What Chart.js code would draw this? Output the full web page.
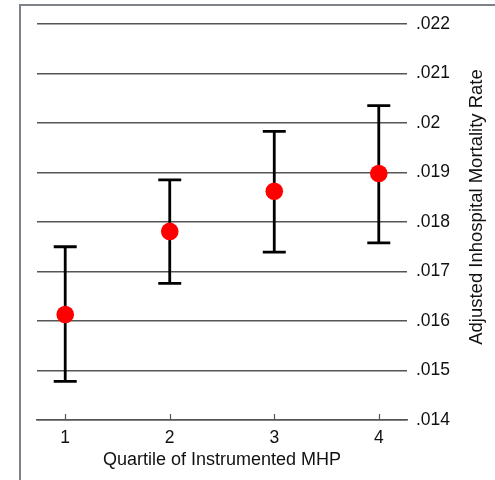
<!DOCTYPE html>
<html>
<head>
<meta charset="utf-8">
<script src="https://cdn.jsdelivr.net/npm/chart.js@4/dist/chart.umd.min.js"></script>
<style>
  html, body { margin: 0; padding: 0; background: #fff; }
  #wrap { position: relative; width: 495px; height: 480px; overflow: hidden; }
  /* outer graph frame, only top and left edges are visible */
  #frame {
    position: absolute; left: 19px; top: 4px; width: 600px; height: 600px;
    border-left: 2px solid #7d8288; border-top: 2px solid #7d8288;
  }
  #chart { position: absolute; left: 0; top: 0; }
</style>
</head>
<body>
<div id="wrap">
  <div id="frame"></div>
  <canvas id="chart" width="495" height="480"></canvas>
</div>
<script>
// quartile means with 95% intervals
const quartiles = [1, 2, 3, 4];
const rate = [0.01613, 0.01781, 0.01862, 0.01898];
const ciLow = [0.01478, 0.01676, 0.01739, 0.01758];
const ciHigh = [0.01750, 0.01885, 0.01983, 0.02035];
const yTicks = [0.014, 0.015, 0.016, 0.017, 0.018, 0.019, 0.020, 0.021, 0.022];

const FONT = "'Liberation Sans', Arial, Helvetica, sans-serif";
const yTitle = 'Adjusted Inhospital Mortality Rate';

// drop the leading zero the way Stata labels it: .02, .015
function fmt(v) {
  return String(+v.toFixed(3)).replace(/^0/, '');
}

// vertical interval lines with caps, drawn under the points
const errorBars = {
  id: 'errorBars',
  beforeDatasetsDraw(chart) {
    const { ctx, scales: { x, y } } = chart;
    const cap = 11.5;
    ctx.save();
    ctx.strokeStyle = '#000';
    ctx.lineWidth = 2.8;
    quartiles.forEach((q, i) => {
      const px = x.getPixelForValue(q);
      const top = y.getPixelForValue(ciHigh[i]);
      const bot = y.getPixelForValue(ciLow[i]);
      ctx.beginPath();
      ctx.moveTo(px, top); ctx.lineTo(px, bot);
      ctx.moveTo(px - cap, top); ctx.lineTo(px + cap, top);
      ctx.moveTo(px - cap, bot); ctx.lineTo(px + cap, bot);
      ctx.stroke();
    });
    ctx.restore();
  }
};

// short inward ticks on the x axis and the rotated right-hand title
const axisExtras = {
  id: 'axisExtras',
  afterDraw(chart) {
    const { ctx, chartArea, scales: { x } } = chart;
    ctx.save();
    ctx.strokeStyle = '#555';
    ctx.lineWidth = 1.2;
    quartiles.forEach(q => {
      const px = Math.round(x.getPixelForValue(q)) + 0.5;
      ctx.beginPath();
      ctx.moveTo(px, chartArea.bottom);
      ctx.lineTo(px, chartArea.bottom - 6);
      ctx.stroke();
    });
    ctx.translate(chart.width - 13, (chartArea.top + chartArea.bottom) / 2 - 15);
    ctx.rotate(-Math.PI / 2);
    ctx.fillStyle = '#111';
    ctx.font = '18.5px ' + FONT;
    ctx.textAlign = 'center';
    ctx.textBaseline = 'alphabetic';
    ctx.fillText(yTitle, 0, 0);
    ctx.restore();
  }
};

new Chart(document.getElementById('chart'), {
  type: 'scatter',
  data: {
    datasets: [{
      data: quartiles.map((q, i) => ({ x: q, y: rate[i] })),
      backgroundColor: '#ff0000',
      borderWidth: 0,
      pointRadius: 8.8
    }]
  },
  options: {
    responsive: false,
    animation: false,
    layout: { padding: { left: 37, top: 24, right: 0, bottom: 0 } },
    plugins: { legend: { display: false }, tooltip: { enabled: false } },
    scales: {
      x: {
        type: 'linear',
        min: 0.73,
        max: 4.27,
        afterBuildTicks: s => { s.ticks = quartiles.map(v => ({ value: v })); },
        afterFit: s => { s.height = 60; },
        grid: { display: true, drawOnChartArea: false, drawTicks: false },
        border: { display: true, color: '#555', width: 1.5 },
        ticks: { padding: 8, color: '#111', font: { family: FONT, size: 17.5 } },
        title: {
          display: true,
          text: 'Quartile of Instrumented MHP',
          color: '#111',
          font: { family: FONT, size: 18 },
          padding: { top: 0, bottom: 9 }
        }
      },
      y: {
        position: 'right',
        min: 0.014,
        max: 0.022,
        afterBuildTicks: s => { s.ticks = yTicks.map(v => ({ value: v })); },
        afterFit: s => { s.width = 88; },
        grid: { color: '#555', lineWidth: 1.5, drawTicks: false },
        border: { display: false },
        ticks: {
          padding: 9,
          color: '#111',
          font: { family: FONT, size: 17.5 },
          callback: v => fmt(v)
        }
      }
    }
  },
  plugins: [errorBars, axisExtras]
});
</script>
</body>
</html>
